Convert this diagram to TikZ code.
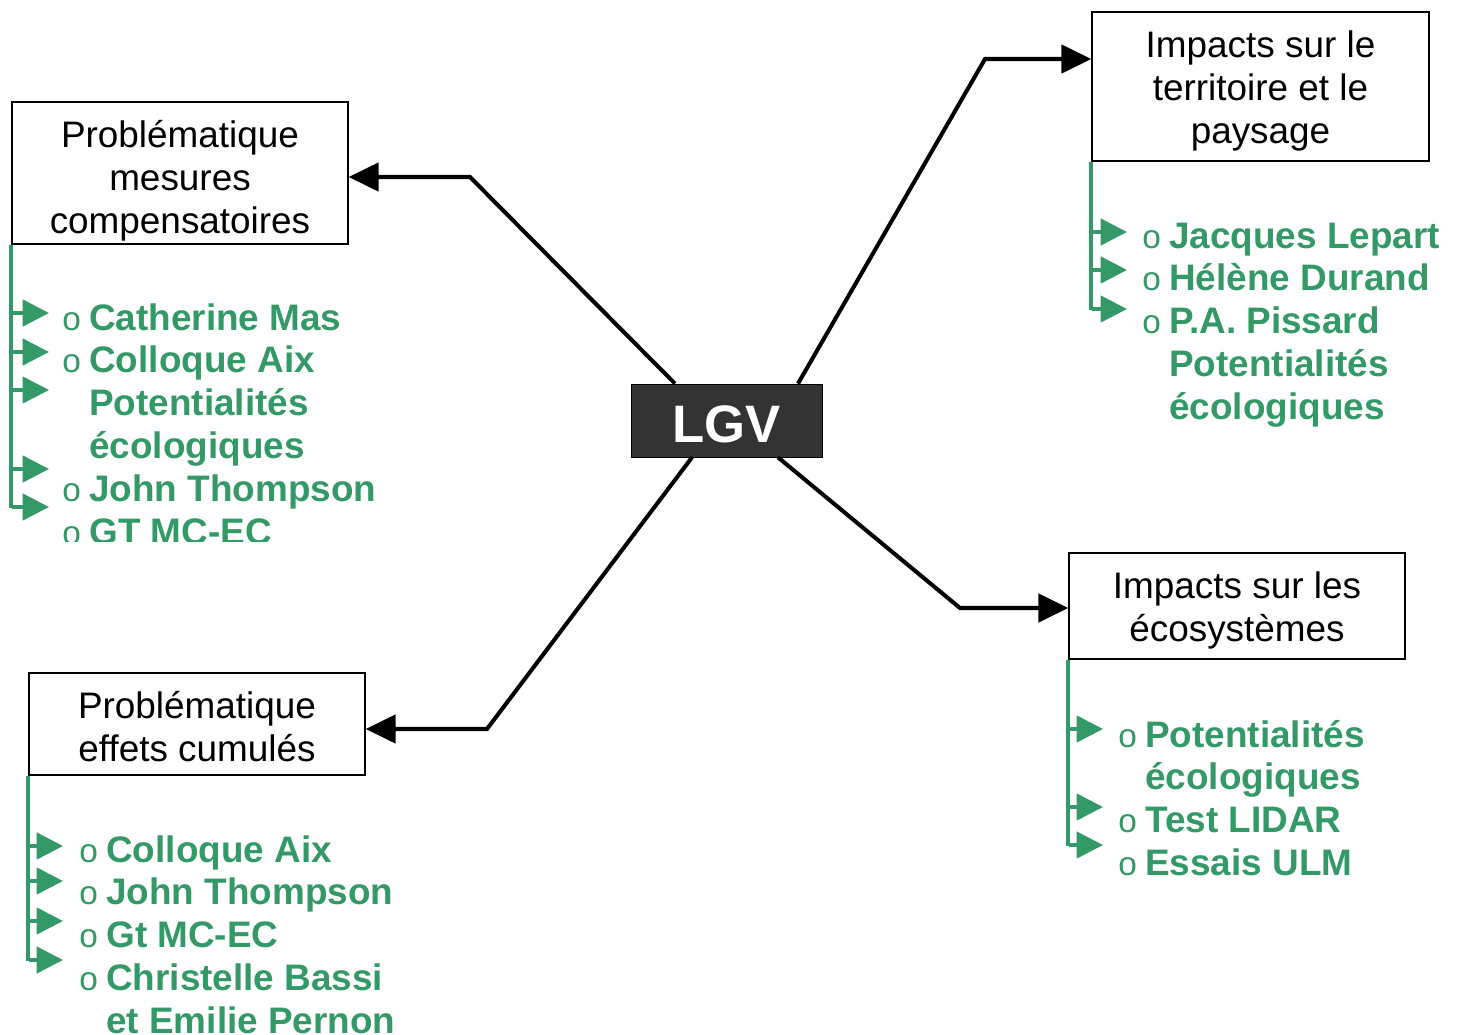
\documentclass[tikz,border=0pt]{standalone}
\usepackage{fontspec}
\setmainfont{Liberation Sans}
\usetikzlibrary{arrows.meta}
\definecolor{listgreen}{RGB}{51,153,102}
\definecolor{lgvgrey}{RGB}{51,51,51}
\newcommand{\bl}{\makebox[0.54cm][l]{\mdseries\fontsize{19}{20}\selectfont o}}
\newcommand{\ind}{\hspace*{0.54cm}}

\begin{document}
\begin{tikzpicture}[x=0.02cm, y=-0.02cm,
    topic/.style={draw=black, line width=0.8pt, fill=white, minimum width=6.72cm, inner sep=0pt},
    topictext/.style={align=center, inner sep=0pt, font=\fontsize{21}{24.4}\selectfont},
    conn/.style={line width=2.3pt, -{Triangle[length=17pt,width=16pt]}},
    gline/.style={draw=listgreen, line width=2.4pt},
    garrow/.style={draw=listgreen, line width=2pt, -{Triangle[length=15pt,width=15pt]}},
    glist/.style={anchor=base west, inner sep=0pt, text=listgreen, font=\fontsize{21}{24.4}\selectfont\bfseries}]
        \useasboundingbox (0,0) rectangle (1458,1035);

        \node[draw=black, fill=lgvgrey, text=white, font=\fontsize{30}{36}\selectfont\bfseries, text height=25pt, minimum width=3.82cm, minimum height=1.46cm, inner sep=0pt] (lgv) at (726.5,420.5) {LGV};
        \node[topic, minimum height=2.84cm] (mesures) at (180,173) {};
        \node[topic, minimum width=6.74cm, minimum height=2.98cm] (territoire) at (1260.5,86.5) {};
        \node[topic, minimum height=2.12cm] (ecosys) at (1237,606) {};
        \node[topic, minimum height=2.04cm] (cumules) at (197,724) {};
        \node[topictext] (mesurestexte) at ([yshift=-0.16cm]mesures.center) {Problématique\\mesures\\compensatoires};
        \node[topictext] (territoiretexte) at ([yshift=-0.09cm]territoire.center) {Impacts sur le\\territoire et le\\paysage};
        \node[topictext] (ecosystexte) at ([yshift=-0.09cm]ecosys.center) {Impacts sur les\\écosystèmes};
        \node[topictext] (cumulestexte) at ([yshift=-0.06cm]cumules.center) {Problématique\\effets cumulés};

        \draw[conn] ([xshift=-1.03cm]lgv.north) -- (470,177) -- ([yshift=-0.08cm]mesures.east);
        \draw[conn] ([xshift=1.43cm]lgv.north) -- (985,59) -- ([yshift=0.55cm]territoire.west);
        \draw[conn] ([xshift=1.03cm]lgv.south) -- (960,608) -- ([yshift=-0.04cm]ecosys.west);
        \draw[conn] ([xshift=-0.69cm]lgv.south) -- (487,729) -- ([yshift=-0.1cm]cumules.east);

        % green lists
        \draw[gline] (mesures.south west) -- ++(0,263);
        \foreach \y in {313,352,390,469,507} \draw[garrow] (12,\y) -- (49,\y);
        \draw[gline] (territoire.south west) -- ++(0,148);
        \foreach \y in {232,270,309} \draw[garrow] (1092,\y) -- (1127,\y);
        \draw[gline] (ecosys.south west) -- ++(0,186);
        \foreach \y in {729,807,845} \draw[garrow] (1069,\y) -- (1103,\y);
        \draw[gline] (cumules.south west) -- ++(0,185);
        \foreach \y in {846,881,921,960} \draw[garrow] (29,\y) -- (63,\y);

        \begin{scope}
            \clip (0,0) rectangle (1458,541);
            \node[glist] (mesuresliste) at (62,330) {\begin{tabular}[t]{@{}l@{}}\bl Catherine Mas\\ \bl Colloque Aix\\ \ind Potentialités\\ \ind écologiques\\ \bl John Thompson\\ \bl GT MC-EC\end{tabular}};
        \end{scope}
        \node[glist] (territoireliste) at (1142,248) {\begin{tabular}[t]{@{}l@{}}\bl Jacques Lepart\\ \bl Hélène Durand\\ \bl P.A. Pissard\\ \ind Potentialités\\ \ind écologiques\end{tabular}};
        \node[glist] (ecosysliste) at (1118,747) {\begin{tabular}[t]{@{}l@{}}\bl Potentialités\\ \ind écologiques\\ \bl Test LIDAR\\ \bl Essais ULM\end{tabular}};
        \node[glist] (cumulesliste) at (79,862) {\begin{tabular}[t]{@{}l@{}}\bl Colloque Aix\\ \bl John Thompson\\ \bl Gt MC-EC\\ \bl Christelle Bassi\\ \ind et Emilie Pernon\end{tabular}};
    \end{tikzpicture}
\end{document}
